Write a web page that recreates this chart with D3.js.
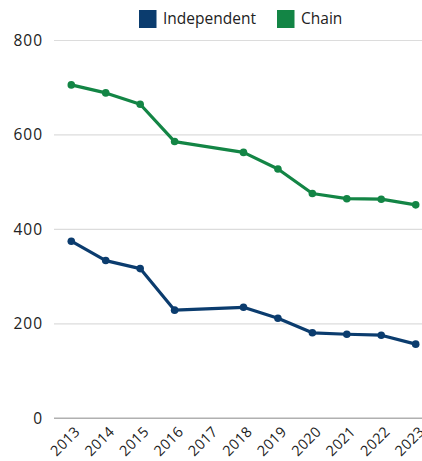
<!DOCTYPE html>
<html><head><meta charset="utf-8">
<script src="https://cdn.jsdelivr.net/npm/d3@7"></script>
<style>body{margin:0;background:#fff}svg{display:block}</style>
</head><body>
<svg id="c" width="422" height="461"></svg>
<script>
const years = ["2013","2014","2015","2016","2017","2018","2019","2020","2021","2022","2023"];
const independent = [375, 334, 317, 229, null, 235, 212, 181, 178, 176, 157];
const chain = [706, 689, 665, 586, null, 563, 528, 476, 465, 464, 452];
const seriesNames = ["Independent", "Chain"];
const seriesColors = ["#0b3c6e", "#138545"];
const yTicks = [0, 200, 400, 600, 800];

const svg = d3.select("#c");
const font = "'Open Sans', sans-serif";
const x = d3.scalePoint().domain(years).range([71.3, 415.7]);
const y = d3.scaleLinear().domain([0, 800]).range([418.3, 40.5]);

// gridlines
svg.append("g").selectAll("line").data(yTicks).join("line")
  .attr("x1", 54).attr("x2", 422)
  .attr("y1", d => y(d)).attr("y2", d => y(d))
  .attr("stroke", d => d === 0 ? "#b0b0b0" : "#dcdcdc")
  .attr("stroke-width", d => d === 0 ? 1.5 : 1.2);

// y labels
svg.append("g").selectAll("text").data(yTicks).join("text")
  .attr("x", 43).attr("y", d => y(d)).attr("dy", "0.35em")
  .attr("text-anchor", "end").attr("font-family", font).attr("font-size", 15.5)
  .attr("letter-spacing", 1).attr("fill", "#222").text(d => d);

// x labels
svg.append("g").selectAll("text").data(years).join("text")
  .attr("transform", d => `translate(${x(d)+6},${429}) rotate(-45)`)
  .attr("text-anchor", "end").attr("dy", "0.35em")
  .attr("font-family", font).attr("font-size", 14.5).attr("letter-spacing", 0.3)
  .attr("fill", "#222").text(d => d);

const seriesData = [independent, chain];
seriesData.forEach((vals, i) => {
  const pts = years.map((yr, j) => ({yr, v: vals[j]})).filter(p => p.v != null);
  svg.append("path").datum(pts)
    .attr("fill", "none").attr("stroke", seriesColors[i]).attr("stroke-width", 3.2)
    .attr("stroke-linejoin", "round")
    .attr("d", d3.line().x(p => x(p.yr)).y(p => y(p.v)));
  svg.append("g").selectAll("circle").data(pts).join("circle")
    .attr("cx", p => x(p.yr)).attr("cy", p => y(p.v)).attr("r", 3.8)
    .attr("fill", seriesColors[i]);
});

// legend
const legX = [139, 277];
seriesNames.forEach((n, i) => {
  svg.append("rect").attr("x", legX[i]).attr("y", 10).attr("width", 17.5).attr("height", 18)
    .attr("fill", seriesColors[i]);
  svg.append("text").attr("x", legX[i] + 24).attr("y", 19).attr("dy", "0.35em")
    .attr("font-family", font).attr("font-size", 15.5).attr("fill", "#222").text(n);
});
</script>
</body></html>
